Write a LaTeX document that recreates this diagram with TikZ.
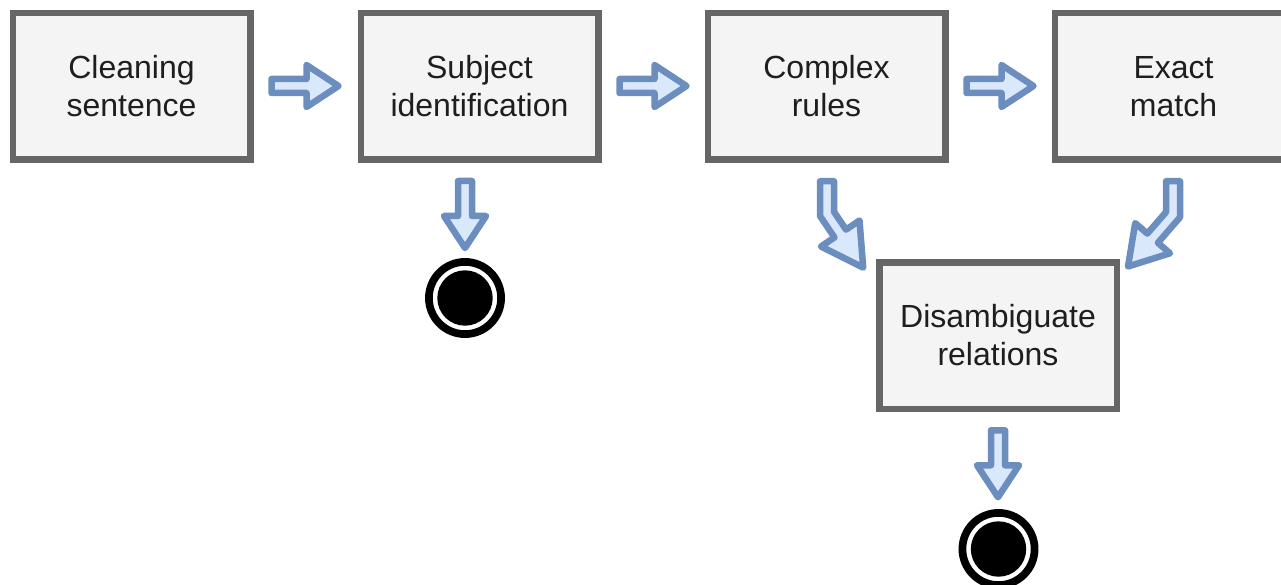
\documentclass[tikz,border=0pt]{standalone}
\usepackage{fontspec}
\setmainfont{Liberation Sans}
\usetikzlibrary{calc}

\definecolor{boxline}{HTML}{666666}
\definecolor{boxfill}{HTML}{F4F4F4}
\definecolor{arrline}{HTML}{6C8EBF}
\definecolor{arrfill}{HTML}{DAE8FC}
\definecolor{txt}{HTML}{1E1E1E}

\tikzset{
  stepbox/.style={draw=boxline, fill=boxfill, line width=6.5pt,
    minimum width=237.5pt, minimum height=146.5pt, inner sep=0pt,
    align=center, text=txt,
    font=\fontsize{32pt}{38pt}\selectfont},
  endnode/.style={circle, draw=black, fill=white, line width=7.7pt,
    minimum size=72.2pt, inner sep=0pt,
    path picture={\fill[black] (path picture bounding box.center) circle (27.7);}},
  blockarrow/.style={draw=arrline, fill=arrfill, line width=6.5pt, line join=round},
  pics/rightarrow/.style={code={
    \draw[blockarrow] (0,-7) -- (35,-7) -- (35,-21) -- (67,0)
      -- (35,21) -- (35,7) -- (0,7) -- cycle;}}
}

\begin{document}
\begin{tikzpicture}[x=1pt, y=-1pt]
  \useasboundingbox (0,0) rectangle (1281,585);
  \clip (0,0) rectangle (1281,585);

  % process steps
  \node[stepbox] (clean)   at (131.5,86.5)  {Cleaning\\sentence};
  \node[stepbox] (subj)    at (479.5,86.5)  {Subject\\identification};
  \node[stepbox] (complex) at (826.5,86.5)  {Complex\\rules};
  \node[stepbox] (exact)   at (1173.5,86.5) {Exact\\match};
  \node[stepbox] (disamb)  at (998,335.5)   {Disambiguate\\relations};

  % final states
  \node[endnode] (end1) at (465,298) {};
  \node[endnode] (end2) at (998.5,549) {};

  % horizontal block arrows between the steps
  \pic at ($(clean.east)+(18,-0.5)$)   {rightarrow};
  \pic at ($(subj.east)+(18,-0.5)$)    {rightarrow};
  \pic at ($(complex.east)+(18,-0.5)$) {rightarrow};

  % downward block arrows into the final states
  \pic[rotate=-90] at ($(subj.south)+(-14.5,18)$) {rightarrow};
  \pic[rotate=-90] at ($(disamb.south)+(0,18.25)$) {rightarrow};

  % bent arrow: complex rules -> disambiguation
  \begin{scope}[shift={(complex.south)}]
    \draw[blockarrow] (-6.5,18.25) -- (7.5,18.25) -- (7.5,48.8) -- (19.55,66.6)
      -- (33,57.5) -- (36.7,104.6) -- (-5.5,83.5) -- (7.95,74.4)
      -- (-6.5,53) -- cycle;
  \end{scope}

  % bent arrow: exact match -> disambiguation
  \begin{scope}[shift={(exact.south)}]
    \draw[blockarrow] (-7.5,18.25) -- (6.5,18.25) -- (6.5,54.3) -- (-15.6,79.8)
      -- (-3.5,90.3) -- (-45.5,103.5) -- (-38.3,60.1) -- (-26.2,70.6)
      -- (-7.5,49.1) -- cycle;
  \end{scope}
\end{tikzpicture}
\end{document}
